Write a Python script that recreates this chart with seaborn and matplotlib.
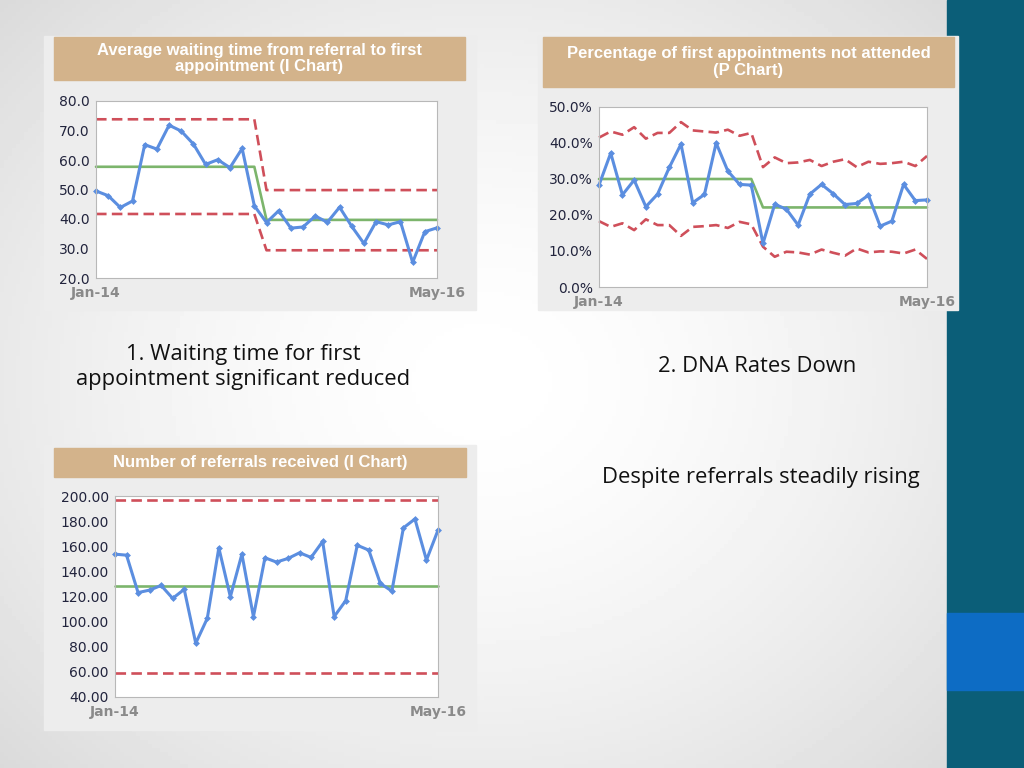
import numpy as np
import pandas as pd
import matplotlib
matplotlib.use('Agg')
import matplotlib.pyplot as plt
import seaborn as sns
from matplotlib.patches import Rectangle

# ---- data (Jan-14 .. May-16, 29 months) ----
months = pd.date_range('2014-01-01', '2016-05-01', freq='MS').strftime('%b-%y').tolist()

wait_vals = [49.5, 47.9, 43.9, 46.1, 65.2, 63.7, 71.8, 69.8, 65.4, 58.5, 60.1, 57.4, 63.9, 44.5,
             38.8, 42.8, 36.9, 37.3, 41.0, 38.9, 44.0, 37.5, 31.7, 39.1, 38.0, 39.1, 25.3, 35.7, 37.0]
wait_cl = [57.7] * 14 + [39.7] * 15
wait_ucl = [73.8] * 14 + [49.8] * 15
wait_lcl = [41.7] * 14 + [29.4] * 15

dna_vals = [28.3, 37.2, 25.6, 29.7, 22.3, 25.8, 33.2, 39.7, 23.4, 25.7, 40.0, 32.2, 28.5, 28.3,
            12.1, 23.0, 21.6, 17.2, 25.8, 28.5, 25.9, 22.9, 23.2, 25.5, 16.9, 18.3, 28.5, 24.0, 24.2]
dna_cl = [30.0] * 14 + [22.1] * 15
dna_ucl = [41.5, 43.2, 42.3, 44.4, 41.2, 42.8, 42.8, 45.8, 43.5, 43.2, 42.9, 43.7, 42.0, 42.8,
           33.3, 36.0, 34.4, 34.6, 35.3, 33.6, 34.8, 35.5, 33.3, 34.8, 34.2, 34.4, 34.8, 33.6, 36.4]
dna_lcl = [18.3, 16.7, 17.7, 15.8, 18.8, 17.2, 17.2, 14.2, 16.7, 16.9, 17.2, 16.4, 18.1, 17.4,
           11.2, 8.4, 9.8, 9.6, 9.0, 10.4, 9.5, 8.7, 10.7, 9.6, 9.9, 9.8, 9.3, 10.4, 7.8]

ref_vals = [153.7, 152.9, 123.1, 125.1, 128.8, 118.5, 125.7, 82.8, 102.6, 158.7, 119.8, 153.7, 104.0,
            150.8, 147.4, 150.3, 154.8, 151.1, 163.8, 104.0, 116.7, 160.8, 156.9, 130.4, 124.3,
            174.6, 181.7, 149.0, 172.8]
ref_cl = [128.3] * 29
ref_ucl = [197.1] * 29
ref_lcl = [59.5] * 29

titles = ['Average waiting time from referral to first\nappointment (I Chart)',
          'Percentage of first appointments not attended\n(P Chart)',
          'Number of referrals received (I Chart)']
notes = ['1. Waiting time for first\nappointment significant reduced',
         '2. DNA Rates Down',
         'Despite referrals steadily rising']

W, H = 1024, 768
BLUE, RED, GREEN = '#5b8ee0', '#cf4f5a', '#7cb56c'
TAN = '#d3b38b'

sns.set_style('white')
plt.rcParams['font.family'] = ['DejaVu Sans']


def frect(x0, y0, x1, y1):
    # pixel box (top-left origin) -> figure fraction rect
    return [x0 / W, 1 - y1 / H, (x1 - x0) / W, (y1 - y0) / H]


fig = plt.figure(figsize=(10.24, 7.68), dpi=100)

# soft radial background
bg = fig.add_axes([0, 0, 1, 1], zorder=-2)
yy, xx = np.mgrid[0:H:4, 0:W:4]
r = np.sqrt(((xx - 480) / 620) ** 2 + ((yy - 380) / 520) ** 2)
shade = 1 - 0.13 * np.clip(r, 0, 1.2) ** 1.6
bg.imshow(shade, cmap='gray', vmin=0, vmax=1, extent=[0, W, H, 0], aspect='auto')
bg.axis('off')

# right hand band
fig.patches.append(Rectangle((947 / W, 0), 77 / W, 1, transform=fig.transFigure,
                             color='#0b5e78', zorder=-1.5))
fig.patches.append(Rectangle((947 / W, 1 - 690 / H), 77 / W, 77 / H, transform=fig.transFigure,
                             color='#0d6cc4', zorder=-1.4))


def panel(box, tbox, title, tsize):
    r = frect(*box)
    fig.patches.append(Rectangle((r[0], r[1]), r[2], r[3], transform=fig.transFigure,
                                 color='#ededed', zorder=-1))
    t = frect(*tbox)
    fig.patches.append(Rectangle((t[0], t[1]), t[2], t[3], transform=fig.transFigure,
                                 color=TAN, zorder=-0.9))
    fig.text(t[0] + t[2] / 2, t[1] + t[3] / 2, title, ha='center', va='center',
             color='white', fontsize=tsize, fontweight='bold', family='Liberation Sans',
             linespacing=1.12)


def chart(box, vals, cl, ucl, lcl, ylim, step, fmt):
    ax = fig.add_axes(frect(*box))
    ax.set_facecolor('white')
    x = np.arange(len(vals))
    for lim in (ucl, lcl):
        sns.lineplot(x=x, y=lim, ax=ax, color=RED, linewidth=1.9, linestyle=(0, (4, 2)),
                     clip_on=False)
    sns.lineplot(x=x, y=cl, ax=ax, color=GREEN, linewidth=1.9, clip_on=False)
    sns.lineplot(x=x, y=vals, ax=ax, color=BLUE, linewidth=2.2, marker='D', markersize=3.5,
                 markeredgewidth=0, clip_on=False)
    ax.set_xlim(0, len(vals) - 1)
    ax.set_ylim(*ylim)
    ax.set_yticks(np.arange(ylim[0], ylim[1] + step / 2, step))
    ax.set_yticklabels([fmt(v) for v in ax.get_yticks()], color='#22243d', fontsize=10)
    ax.set_xticks([0, len(vals) - 1])
    ax.set_xticklabels([months[0], months[-1]], color='#8a8a8a', fontsize=10,
                       fontweight='bold')
    ax.tick_params(axis='y', length=3, width=0.6, color='#b8b8b8', pad=1.5)
    ax.tick_params(axis='x', length=0, pad=6)
    for s in ax.spines.values():
        s.set_color('#b8b8b8')
        s.set_linewidth(0.8)
    ax.set_xlabel('')
    ax.set_ylabel('')
    return ax


panel((44, 36, 476, 310), (54, 37, 465, 80), titles[0], 12)
chart((96, 101, 437, 278), wait_vals, wait_cl, wait_ucl, wait_lcl, (20, 80), 10,
      lambda v: f'{v:.1f}')

panel((538, 36, 958, 310), (543, 37, 954, 87), titles[1], 12)
chart((599, 107, 927, 287), dna_vals, dna_cl, dna_ucl, dna_lcl, (0, 50), 10,
      lambda v: f'{v:.1f}%')

panel((44, 445, 476, 730), (54, 448, 466, 477), titles[2], 12)
chart((115, 496, 438, 697), ref_vals, ref_cl, ref_ucl, ref_lcl, (40, 200), 20,
      lambda v: f'{v:.2f}')

note_font = dict(ha='center', va='center', color='#111111', fontsize=15.8, family='Open Sans')
fig.text(243 / W, 1 - 367 / H, notes[0], linespacing=1.3, **note_font)
fig.text(757 / W, 1 - 367 / H, notes[1], **note_font)
fig.text(761 / W, 1 - 478 / H, notes[2], **note_font)

fig.savefig('out.png', dpi=100)
